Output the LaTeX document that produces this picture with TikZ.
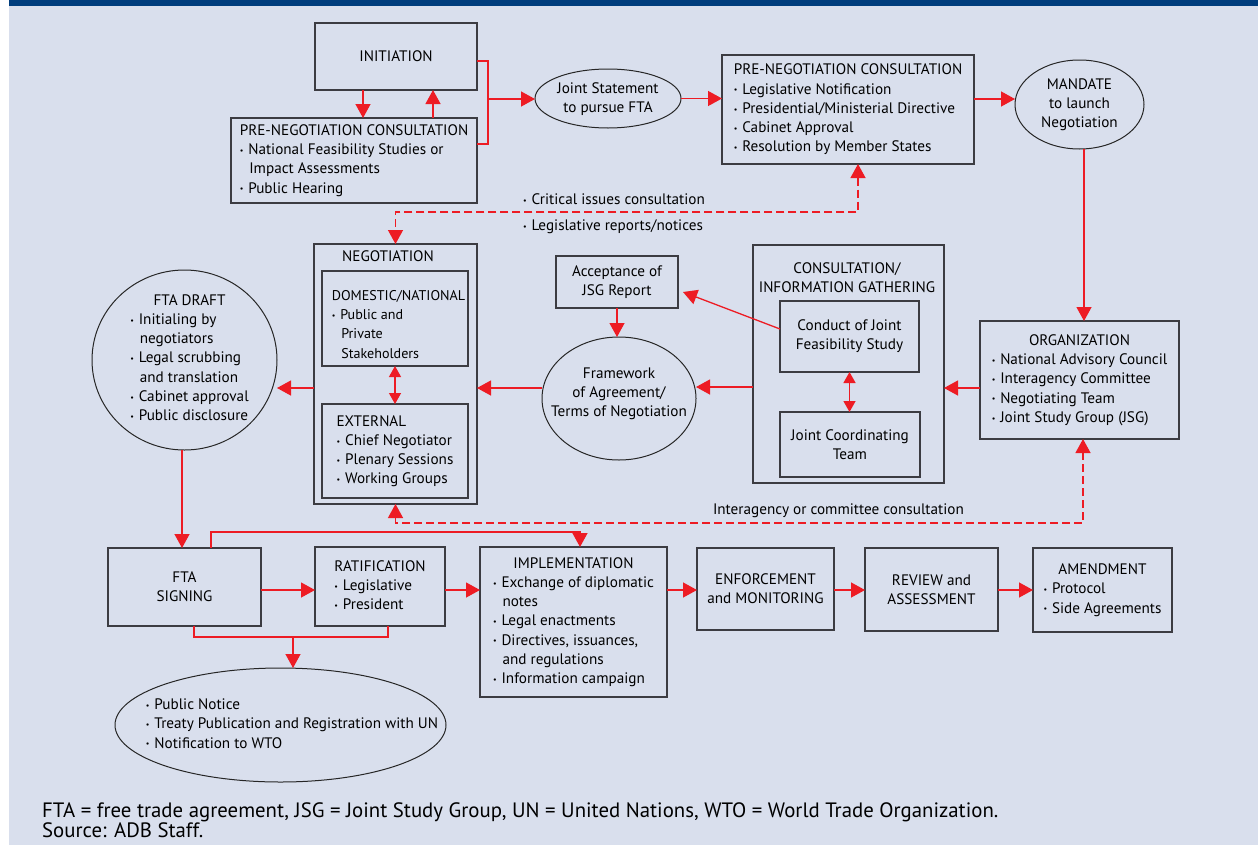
\documentclass[tikz,border=0pt]{standalone}
\usepackage{fontspec}
\setmainfont{PT Sans}
\usetikzlibrary{arrows.meta,calc,shapes.geometric}
\definecolor{bgc}{RGB}{217,223,237}
\definecolor{hdr}{RGB}{0,61,125}
\definecolor{redc}{RGB}{237,28,36}
\definecolor{boxc}{RGB}{60,60,66}
\newcommand{\fs}{\fontsize{15.2}{19.2}\selectfont}
\newcommand{\bul}{\makebox[8.5pt][l]{\raisebox{1.2pt}{\fontsize{8}{8}\selectfont\textbullet}}}
\newcommand{\cnt}{\hspace*{9.5pt}}
\newcommand{\blk}[1]{\begin{tabular}{@{}l@{}}#1\end{tabular}}
\newcommand{\ttl}[1]{\multicolumn{1}{@{}c@{}}{#1}}
\tikzset{
  box/.style={draw=boxc, line width=1.2pt, inner sep=0pt, outer sep=0pt, font=\fs, align=center},
  ell/.style={draw=black!85, line width=1pt, ellipse, inner sep=0pt, outer sep=0pt},
  txt/.style={inner sep=0pt, outer sep=0pt, font=\fs, align=center},
  rl/.style={draw=redc, line width=1.3pt},
  arr/.style={rl, -{Triangle[length=14pt,width=15pt]}},
  darr/.style={rl, dash pattern=on 8pt off 4pt, {Triangle[length=14pt,width=15pt]}-{Triangle[length=14pt,width=15pt]}},
  dbl/.style={rl, {Triangle[length=11pt,width=12pt]}-{Triangle[length=11pt,width=12pt]}},
  foot/.style={inner sep=0pt, anchor=base west, font=\fontsize{20.8}{22}\selectfont}
}
\begin{document}
\begin{tikzpicture}[x=1pt,y=-1pt]
\useasboundingbox[fill=white] (0,0) rectangle (1258,846);
\fill[bgc] (9,6) rectangle (1258,845);
\fill[hdr] (9,0) rectangle (1258,6);

% top row
\node[box, minimum width=162, minimum height=67] (init) at (396,56.5) {INITIATION};
\node[box, minimum width=246, minimum height=85] (pnc1) at (354,160.5)
  {\blk{\ttl{PRE-NEGOTIATION CONSULTATION}\\ \bul National Feasibility Studies or\\ \cnt Impact Assessments\\ \bul Public Hearing}};
\node[ell, minimum width=146, minimum height=59] (joint) at (608,98.5) {};
\node[txt] (jointt) at (608,99.5) {Joint Statement\\to pursue FTA};
\node[box, minimum width=252, minimum height=109] (pnc2) at (848,109.5)
  {\blk{PRE-NEGOTIATION CONSULTATION\\ \bul Legislative Notification\\ \bul Presidential/Ministerial Directive\\ \bul Cabinet Approval\\ \bul Resolution by Member States}};
\node[ell, minimum width=129, minimum height=89] (mandate) at (1079.5,104.5) {};
\node[txt] (mandatet) at (1079.5,105) {MANDATE\\to launch\\Negotiation};

% middle row
\node[box, minimum width=199, minimum height=118] (org) at (1079.5,380)
  {\blk{\ttl{ORGANIZATION}\\ \bul National Advisory Council\\ \bul Interagency Committee\\ \bul Negotiating Team\\ \bul Joint Study Group (JSG)}};
\node[box, minimum width=163, minimum height=260] (neg) at (395.5,374) {};
\node[txt] (negt) at (388,256) {NEGOTIATION};
\node[box, minimum width=146, minimum height=95] (dom) at (395,318.5) {};
\node[txt, font=\fontsize{14.1}{19.2}\selectfont] (domt) at (398.5,325.5)
  {\blk{DOMESTIC/NATIONAL\\ \bul Public and\\ \cnt Private\\ \cnt Stakeholders}};
\node[box, minimum width=146, minimum height=94] (ext) at (395,451)
  {\blk{EXTERNAL\\ \bul Chief Negotiator\\ \bul Plenary Sessions\\ \bul Working Groups}};
\node[ell, minimum width=185, minimum height=180] (draft) at (184.5,360) {};
\node[txt] (draftt) at (189.5,359)
  {\blk{\ttl{FTA DRAFT}\\ \bul Initialing by\\ \cnt negotiators\\ \bul Legal scrubbing\\ \cnt and translation\\ \bul Cabinet approval\\ \bul Public disclosure}};
\node[box, minimum width=122, minimum height=52] (acc) at (617,282) {Acceptance of\\JSG Report};
\node[ell, minimum width=154, minimum height=123] (frame) at (619,398.5) {};
\node[txt] (framet) at (619,394) {Framework\\of Agreement/\\Terms of Negotiation};
\node[box, minimum width=191, minimum height=238] (cons) at (848.5,364) {};
\node[txt] (const) at (847,277.5) {CONSULTATION/\\INFORMATION GATHERING};
\node[box, minimum width=139, minimum height=71] (conduct) at (849.5,336.5) {Conduct of Joint\\Feasibility Study};
\node[box, minimum width=140, minimum height=65] (jct) at (850,444.5) {Joint Coordinating\\Team};

% bottom row
\node[box, minimum width=153, minimum height=78] (sign) at (184.5,587) {FTA\\SIGNING};
\node[box, minimum width=130, minimum height=79] (rat) at (380,586.5)
  {\blk{\ttl{RATIFICATION}\\ \bul Legislative\\ \bul President}};
\node[box, minimum width=187, minimum height=150] (impl) at (573.5,622)
  {\blk{\ttl{IMPLEMENTATION}\\ \bul Exchange of diplomatic\\ \cnt notes\\ \bul Legal enactments\\ \bul Directives, issuances,\\ \cnt and regulations\\ \bul Information campaign}};
\node[box, minimum width=137, minimum height=82] (enf) at (765.5,589) {ENFORCEMENT\\and MONITORING};
\node[box, minimum width=133, minimum height=83] (rev) at (931.5,589.5) {REVIEW and\\ASSESSMENT};
\node[box, minimum width=139, minimum height=84] (amend) at (1102.5,590)
  {\blk{\ttl{AMENDMENT}\\ \bul Protocol\\ \bul Side Agreements}};
\node[ell, minimum width=331, minimum height=114] (pub) at (280.5,725) {};
\node[txt] (pubt) at (292,725)
  {\blk{\bul Public Notice\\ \bul Treaty Publication and Registration with UN\\ \bul Notification to WTO}};

% labels
\node[txt, anchor=west] (crit) at (523,199) {\bul Critical issues consultation};
\node[txt, anchor=west] (legr) at (523,227) {\bul Legislative reports/notices};
\node[txt, anchor=west] (inter) at (713,511) {Interagency or committee consultation};

% connectors
\draw[arr] ([xshift=-33pt]init.south) -- ([xshift=-33pt]init.south |- pnc1.north);
\draw[arr] ([xshift=37pt]init.south |- pnc1.north) -- ([xshift=37pt]init.south);
\coordinate (br) at (488,99);
\draw[rl] ([yshift=-4.5pt]init.east) -| (br) |- ([yshift=16.5pt]pnc1.east);
\draw[arr] (br) -- (br -| joint.west);
\draw[arr] (joint.east) -- (joint.east -| pnc2.west);
\draw[arr] ([yshift=10.5pt]pnc2.east) -- ([yshift=10.5pt]pnc2.east -| mandate.west);
\draw[arr] ([xshift=4.5pt]mandate.south) -- ([xshift=4.5pt]mandate.south |- org.north);
\draw[arr] ([yshift=-8pt]org.west) -- ([yshift=-8pt]org.west -| cons.east);
\draw[arr] ([yshift=-23pt]cons.west) -- ([yshift=-23pt]cons.west -| frame.east);
\draw[arr] ([yshift=10.5pt]frame.west) -- ([yshift=10.5pt]frame.west -| neg.east);
\draw[arr] ([yshift=-14pt]neg.west) -- ([yshift=-14pt]neg.west -| draft.east);
\draw[arr] (acc.south) -- (acc.south |- frame.north);
\draw[arr] ([yshift=7.5pt]conduct.west) -- ([xshift=5pt,yshift=-10pt]acc.east);
\draw[dbl] (conduct.south) -- (conduct.south |- jct.north);
\draw[dbl] (dom.south) -- (ext.north);
\draw[arr] ([xshift=-2.5pt]draft.south) -- ([xshift=-2.5pt]draft.south |- sign.north);
\draw[arr] ([yshift=-3pt]sign.east) -- ([yshift=-3pt]sign.east -| rat.west);
\draw[arr] ([yshift=-3.5pt]rat.east) -- ([yshift=-3.5pt]rat.east -| impl.west);
\draw[arr] ([yshift=32pt]impl.east) -- ([yshift=32pt]impl.east -| enf.west);
\draw[arr] ([yshift=-1pt]enf.east) -- ([yshift=-1pt]enf.east -| rev.west);
\draw[arr] ([yshift=-0.5pt]rev.east) -- ([yshift=-0.5pt]rev.east -| amend.west);
\draw[arr] ([xshift=26.5pt]sign.north) |- ([xshift=6.5pt,yshift=15pt]impl.north) -- ([xshift=6.5pt]impl.north);
\coordinate (pb) at (293,637);
\draw[rl] ([xshift=9.5pt]sign.south) |- (pb) -| ([xshift=8pt]rat.south);
\draw[arr] (pb) -- (pb |- pub.north);
\draw[darr] ([xshift=10pt]pnc2.south) |- ([yshift=32pt]neg.north) -- (neg.north);
\draw[darr] (neg.south) |- ([xshift=3.5pt,yshift=-84pt]org.south) -- ([xshift=3.5pt]org.south);

% footnote
\node[foot] (fn1) at (42,817) {FTA = free trade agreement, JSG = Joint Study Group, UN = United Nations, WTO = World Trade Organization.};
\node[foot] (fn2) at (42,837) {Source: ADB Staff.};
\end{tikzpicture}
\end{document}
